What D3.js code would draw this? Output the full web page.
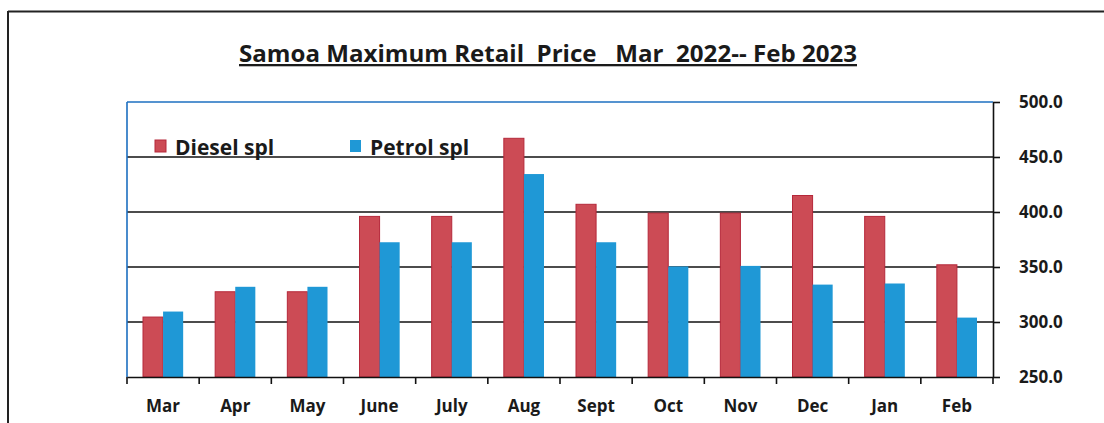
<!DOCTYPE html>
<html><head>
<meta charset="utf-8">
<title>Samoa Maximum Retail Price</title>
<script src="https://d3js.org/d3.v7.min.js"></script>
<style>
  body { margin: 0; background: #fff; }
  text { font-family: "Open Sans", "Noto Sans", sans-serif; font-weight: bold; fill: #1a1a1a; }
</style>
</head>
<body>
<div id="chart"></div>
<script>

// data
var months = ["Mar", "Apr", "May", "June", "July", "Aug", "Sept", "Oct", "Nov", "Dec", "Jan", "Feb"];
var diesel = [304.5, 327.5, 327.5, 396, 396, 467, 407, 399, 399, 415, 396, 352];
var petrol = [309.5, 332, 332, 372.5, 372.5, 434.5, 372.5, 350.5, 351, 334, 335, 304];
var yTicks = [250, 300, 350, 400, 450, 500];
var seriesNames = ["Diesel spl", "Petrol spl"];
var seriesColors = ["#cc4b55", "#1f98d6"];

var W = 1104, H = 423;
var margin = {top: 102, right: 111, bottom: 46, left: 127};
var width = W - margin.left - margin.right;
var height = H - margin.top - margin.bottom;

var svg = d3.select("#chart").append("svg")
    .attr("width", W)
    .attr("height", H);

// outer frame of the scanned page
svg.append("line").attr("x1", 8).attr("x2", W).attr("y1", 11.5).attr("y2", 11.5)
    .attr("stroke", "#222").attr("stroke-width", 2);
svg.append("line").attr("x1", 8).attr("x2", 8).attr("y1", 11).attr("y2", H)
    .attr("stroke", "#222").attr("stroke-width", 2);

// title
svg.append("text")
    .attr("x", 548).attr("y", 62)
    .attr("text-anchor", "middle")
    .style("font-size", "23px")
    .style("white-space", "pre")
    .attr("textLength", 618)
    .attr("lengthAdjust", "spacingAndGlyphs")
    .style("text-decoration", "underline")
    .text("Samoa Maximum Retail  Price   Mar  2022-- Feb 2023");

var g = svg.append("g")
    .attr("transform", "translate(" + margin.left + "," + margin.top + ")");

var x0 = d3.scaleBand().domain(months).range([0, width]).paddingInner(0).paddingOuter(0);
var x1 = d3.scaleBand().domain([0, 1]).range([16, x0.bandwidth() - 16]).padding(0);
var y = d3.scaleLinear().domain([250, 500]).range([height, 0]);

// gridlines
g.selectAll(".grid").data(yTicks.slice(1, -1)).enter().append("line")
    .attr("x1", 0).attr("x2", width)
    .attr("y1", function(d) { return y(d); })
    .attr("y2", function(d) { return y(d); })
    .attr("stroke", "#111").attr("stroke-width", 1.6);

// bars
var rows = months.map(function(m, i) { return {m: m, v: [diesel[i], petrol[i]]}; });
var grp = g.selectAll(".grp").data(rows).enter().append("g")
    .attr("transform", function(d) { return "translate(" + x0(d.m) + ",0)"; });
grp.selectAll("rect").data(function(d) { return d.v; }).enter().append("rect")
    .attr("x", function(d, j) { return x1(j); })
    .attr("width", x1.bandwidth())
    .attr("y", function(d) { return y(d); })
    .attr("height", function(d) { return height - y(d); })
    .attr("fill", function(d, j) { return seriesColors[j]; })
    .attr("stroke", function(d, j) { return j == 0 ? "#b5283a" : "none"; })
    .attr("stroke-width", 1);

// plot frame: blue top and left
g.append("line").attr("x1", 0).attr("x2", width).attr("y1", 0).attr("y2", 0)
    .attr("stroke", "#1c6fc0").attr("stroke-width", 1.6);
g.append("line").attr("x1", 0).attr("x2", 0).attr("y1", 0).attr("y2", height)
    .attr("stroke", "#1c6fc0").attr("stroke-width", 1.6);

// bottom axis
var xAxis = g.append("g")
    .attr("transform", "translate(0," + height + ")")
    .call(d3.axisBottom(x0).tickSize(0).tickPadding(23));
xAxis.select(".domain").attr("stroke", "#111").attr("stroke-width", 1.6);
xAxis.selectAll("text").style("font-size", "17px").attr("fill", "#1a1a1a");
xAxis.selectAll(".bd").data(d3.range(months.length + 1)).enter().append("line")
    .attr("x1", function(i) { return i * x0.step(); })
    .attr("x2", function(i) { return i * x0.step(); })
    .attr("y1", 0).attr("y2", 7)
    .attr("stroke", "#111").attr("stroke-width", 1.6);

// right axis
var yAxis = g.append("g")
    .attr("transform", "translate(" + width + ",0)")
    .call(d3.axisRight(y).tickValues(yTicks).tickFormat(d3.format(".1f")).tickSize(7).tickPadding(19).tickSizeOuter(0));
yAxis.select(".domain").attr("stroke", "#111").attr("stroke-width", 1.6);
yAxis.selectAll("line").attr("stroke", "#111").attr("stroke-width", 1.6);
yAxis.selectAll("text").style("font-size", "17px").attr("fill", "#1a1a1a");

// legend
var legX = [155, 350];
seriesNames.forEach(function(name, i) {
  svg.append("rect")
    .attr("x", legX[i]).attr("y", 140)
    .attr("width", 11).attr("height", 12)
    .attr("fill", seriesColors[i])
    .attr("stroke", i == 0 ? "#b5283a" : "none");
  svg.append("text")
    .attr("x", legX[i] + 20).attr("y", 155)
    .style("font-size", "21px")
    .text(name);
});

</script>
</body></html>
